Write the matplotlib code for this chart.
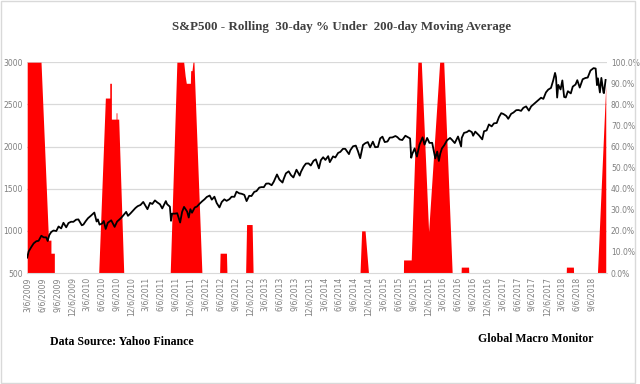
# -*- coding: utf-8 -*-
import numpy as np
import pandas as pd
import matplotlib
matplotlib.use('Agg')
import matplotlib.pyplot as plt
from matplotlib.patches import Rectangle

# S&P500 level (approx. semi-monthly readings)
spx_dates = [
    '2009-03-06', '2009-03-15', '2009-04-01', '2009-04-15', '2009-05-01', '2009-05-15', '2009-06-01', '2009-06-15',
    '2009-07-01', '2009-07-10', '2009-07-20', '2009-08-01', '2009-08-15', '2009-09-01', '2009-09-15', '2009-10-01',
    '2009-10-15', '2009-11-01', '2009-11-15', '2009-12-01', '2009-12-15',
    '2010-01-01', '2010-01-15', '2010-02-05', '2010-02-15', '2010-03-01', '2010-03-15', '2010-04-01', '2010-04-23',
    '2010-05-07', '2010-05-15', '2010-05-25', '2010-06-10', '2010-06-20', '2010-07-02', '2010-07-15', '2010-08-05',
    '2010-08-26', '2010-09-10', '2010-10-01', '2010-10-15', '2010-11-05', '2010-11-16', '2010-12-01', '2010-12-15',
    '2011-01-01', '2011-01-15', '2011-02-01', '2011-02-18', '2011-03-01', '2011-03-16', '2011-04-01', '2011-04-15',
    '2011-05-01', '2011-05-15', '2011-06-01', '2011-06-15', '2011-07-07', '2011-07-15', '2011-08-01', '2011-08-08',
    '2011-08-15', '2011-09-01', '2011-09-15', '2011-10-03', '2011-10-15', '2011-10-27', '2011-11-15', '2011-11-25',
    '2011-12-05', '2011-12-15',
    '2012-01-01', '2012-01-15', '2012-02-01', '2012-02-15', '2012-03-01', '2012-03-15', '2012-04-02', '2012-04-15',
    '2012-05-01', '2012-05-15', '2012-06-01', '2012-06-15', '2012-07-01', '2012-07-15', '2012-08-01', '2012-08-15',
    '2012-09-01', '2012-09-14', '2012-10-01', '2012-10-15', '2012-11-01', '2012-11-15', '2012-12-01', '2012-12-15',
    '2013-01-01', '2013-01-15', '2013-02-01', '2013-02-15', '2013-03-01', '2013-03-15', '2013-04-01', '2013-04-18',
    '2013-05-01', '2013-05-21', '2013-06-05', '2013-06-24', '2013-07-01', '2013-07-15', '2013-08-01', '2013-08-15',
    '2013-08-30', '2013-09-18', '2013-10-08', '2013-10-15', '2013-11-01', '2013-11-15', '2013-12-01', '2013-12-15',
    '2014-01-01', '2014-01-15', '2014-02-03', '2014-02-15', '2014-03-01', '2014-03-15', '2014-04-01', '2014-04-11',
    '2014-05-01', '2014-05-15', '2014-06-01', '2014-06-15', '2014-07-01', '2014-07-15', '2014-08-07', '2014-08-15',
    '2014-09-01', '2014-09-18', '2014-10-01', '2014-10-15', '2014-11-01', '2014-11-15', '2014-12-01', '2014-12-15',
    '2015-01-01', '2015-01-15', '2015-02-01', '2015-02-15', '2015-03-01', '2015-03-15', '2015-04-01', '2015-04-15',
    '2015-05-01', '2015-05-20', '2015-06-01', '2015-06-15', '2015-07-01', '2015-07-20', '2015-08-10', '2015-08-18',
    '2015-08-25', '2015-09-01', '2015-09-15', '2015-09-29', '2015-10-15', '2015-11-03', '2015-11-15', '2015-12-01',
    '2015-12-15',
    '2016-01-01', '2016-01-20', '2016-02-01', '2016-02-11', '2016-02-20', '2016-03-01', '2016-03-15', '2016-04-01',
    '2016-04-20', '2016-05-01', '2016-05-19', '2016-06-08', '2016-06-27', '2016-07-01', '2016-07-15', '2016-08-01',
    '2016-08-15', '2016-09-01', '2016-09-09', '2016-09-22', '2016-10-15', '2016-11-04', '2016-11-15', '2016-12-01',
    '2016-12-15',
    '2017-01-01', '2017-01-15', '2017-02-01', '2017-02-15', '2017-03-01', '2017-03-15', '2017-04-01', '2017-04-13',
    '2017-05-01', '2017-05-15', '2017-06-01', '2017-06-15', '2017-07-01', '2017-07-15', '2017-08-01', '2017-08-18',
    '2017-09-01', '2017-09-15', '2017-10-01', '2017-10-15', '2017-11-01', '2017-11-15', '2017-12-01', '2017-12-15',
    '2018-01-01', '2018-01-15', '2018-01-26', '2018-02-01', '2018-02-08', '2018-02-15', '2018-03-01', '2018-03-12',
    '2018-03-23', '2018-04-02', '2018-04-15', '2018-05-03', '2018-05-15', '2018-06-01', '2018-06-12', '2018-06-27',
    '2018-07-15', '2018-08-01', '2018-08-15', '2018-09-01', '2018-09-20', '2018-10-03', '2018-10-11', '2018-10-17',
    '2018-10-29', '2018-11-07', '2018-11-20', '2018-11-23', '2018-12-03',
]
spx_values = [
    683, 756, 811, 852, 877, 882, 942, 923,
    923, 880, 951, 987, 1004, 998, 1052, 1029,
    1096, 1042, 1093, 1108, 1107,
    1133, 1136, 1066, 1075, 1115, 1150, 1178, 1217,
    1111, 1136, 1074, 1087, 1117, 1023, 1096, 1125,
    1047, 1110, 1146, 1176, 1225, 1178, 1206, 1236,
    1271, 1293, 1307, 1343, 1306, 1257, 1332, 1319,
    1361, 1338, 1315, 1266, 1353, 1316, 1287, 1119,
    1204, 1204, 1209, 1099, 1224, 1284, 1229, 1158,
    1257, 1215,
    1277, 1289, 1324, 1350, 1374, 1402, 1419, 1370,
    1405, 1330, 1278, 1342, 1374, 1356, 1375, 1405,
    1404, 1465, 1445, 1440, 1427, 1353, 1416, 1413,
    1462, 1472, 1513, 1519, 1518, 1560, 1562, 1541,
    1582, 1669, 1608, 1573, 1614, 1682, 1706, 1661,
    1633, 1725, 1655, 1698, 1762, 1798, 1800, 1775,
    1831, 1848, 1741, 1838, 1873, 1841, 1886, 1815,
    1883, 1870, 1924, 1937, 1973, 1973, 1910, 1955,
    2003, 2011, 1946, 1862, 2018, 2039, 2053, 1990,
    2058, 1992, 1995, 2096, 2117, 2053, 2060, 2106,
    2108, 2125, 2111, 2084, 2077, 2128, 2104, 2096,
    1867, 1914, 1978, 1881, 2023, 2109, 2023, 2102,
    2043,
    2044, 1859, 1940, 1829, 1918, 1978, 2015, 2073,
    2102, 2081, 2041, 2119, 2001, 2103, 2162, 2171,
    2190, 2171, 2128, 2177, 2133, 2085, 2181, 2191,
    2262,
    2239, 2275, 2279, 2349, 2396, 2385, 2363, 2329,
    2388, 2403, 2431, 2433, 2423, 2459, 2476, 2426,
    2476, 2500, 2529, 2553, 2579, 2565, 2642, 2675,
    2695, 2786, 2873, 2822, 2581, 2731, 2677, 2784,
    2588, 2582, 2656, 2630, 2711, 2735, 2787, 2699,
    2798, 2813, 2818, 2901, 2930, 2925, 2728, 2809,
    2641, 2814, 2641, 2633, 2790,
]

# rolling 30-day share of days under the 200-day moving average
pct_dates = [
    '2009-03-06', '2009-05-30', '2009-07-15', '2009-07-30', '2009-07-30', '2009-08-20', '2009-08-20',
    '2010-05-20', '2010-06-30', '2010-07-27', '2010-07-27', '2010-08-06', '2010-08-06', '2010-09-04', '2010-09-04',
    '2010-09-09', '2010-09-09', '2010-09-20', '2010-10-21',
    '2011-08-03', '2011-09-13', '2011-10-25', '2011-11-03', '2011-11-10', '2011-12-05', '2011-12-07', '2011-12-15',
    '2011-12-21', '2011-12-27', '2012-02-14',
    '2012-06-02', '2012-06-05', '2012-07-14', '2012-07-17',
    '2012-11-09', '2012-11-15', '2012-12-19', '2012-12-25',
    '2014-10-14', '2014-10-24', '2014-11-14', '2014-12-05',
    '2015-07-08', '2015-07-09', '2015-08-25', '2015-10-05', '2015-10-26', '2015-12-10', '2016-02-16', '2016-03-12',
    '2016-05-03',
    '2016-06-27', '2016-06-28', '2016-08-12', '2016-08-13',
    '2018-04-05', '2018-04-06', '2018-05-19', '2018-05-20',
    '2018-10-14', '2018-12-04',
]
pct_values = [
    1.00, 1.00, 0.156, 0.156, 0.094, 0.094, 0.0,
    0.0, 0.83, 0.83, 0.90, 0.90, 0.73, 0.73, 0.76,
    0.76, 0.73, 0.73, 0.0,
    0.0, 1.00, 1.00, 0.935, 0.90, 0.90, 0.96, 0.96,
    1.00, 1.00, 0.0,
    0.0, 0.094, 0.094, 0.0,
    0.0, 0.23, 0.23, 0.0,
    0.0, 0.20, 0.20, 0.0,
    0.0, 0.062, 0.062, 1.00, 1.00, 0.196, 1.00, 1.00,
    0.0,
    0.0, 0.028, 0.028, 0.0,
    0.0, 0.028, 0.028, 0.0,
    0.0, 0.89,
]

title = 'S&P500 - Rolling  30-day % Under  200-day Moving Average'
left_ticks = [500, 1000, 1500, 2000, 2500, 3000]
right_ticks = [0.0, 0.1, 0.2, 0.3, 0.4, 0.5, 0.6, 0.7, 0.8, 0.9, 1.0]

serif = ['Liberation Serif', 'DejaVu Serif']
gray = '#7f7f7f'

fig = plt.figure(figsize=(6.4, 3.84), dpi=100)
fig.patches.append(Rectangle((0.002, 0.003), 0.99, 0.994, transform=fig.transFigure,
                             fill=False, edgecolor='#d9d9d9', lw=1.0))

# red area on the percentage axis (drawn first, sits below the line)
ax = fig.add_axes([0.042, 0.289, 0.906, 0.549])
for v in [0.2, 0.4, 0.6, 0.8, 1.0]:
    ax.axhline(v, color='#d9d9d9', lw=0.9, zorder=0)
ax.fill_between(pd.to_datetime(pct_dates), pct_values, 0, color='#ff0000', lw=0, zorder=1)
ax.set_ylim(0, 1)

# S&P500 line on the left axis
ax2 = ax.twinx()
ax2.plot(pd.to_datetime(spx_dates), spx_values, color='black', lw=1.3, zorder=3)
ax2.set_ylim(500, 3000)

# twinx puts ticks left/right, so swap them afterwards
ax.yaxis.tick_right()
ax.set_yticks(right_ticks)
ax.set_yticklabels(['%.1f%%' % (v * 100) for v in right_ticks])
ax2.yaxis.tick_left()
ax2.set_yticks(left_ticks)

xticks = [pd.Timestamp('2009-03-06') + pd.DateOffset(months=3 * i) for i in range(39)]
ax.set_xlim(pd.Timestamp('2009-03-04'), pd.Timestamp('2018-12-10'))
ax.set_xticks(xticks)
ax.set_xticklabels(['%d/%d/%d' % (d.month, d.day, d.year) for d in xticks], rotation=90)

for a in (ax, ax2):
    for s in a.spines.values():
        s.set_visible(False)
    a.tick_params(length=0, labelsize=5.5, labelcolor=gray, pad=3)
ax.spines['bottom'].set_visible(True)
ax.spines['bottom'].set_color('#d9d9d9')

fig.text(0.533, 0.929, title, ha='center', va='center', family=serif, fontweight='bold',
         fontsize=9.4, color='#404040')
fig.text(0.078, 0.11, 'Data Source: Yahoo Finance', ha='left', va='center', family=serif,
         fontweight='bold', fontsize=8.6, color='black')
fig.text(0.747, 0.118, 'Global Macro Monitor', ha='left', va='center', family=serif,
         fontweight='bold', fontsize=8.5, color='black')

fig.savefig('out.png', dpi=100)
